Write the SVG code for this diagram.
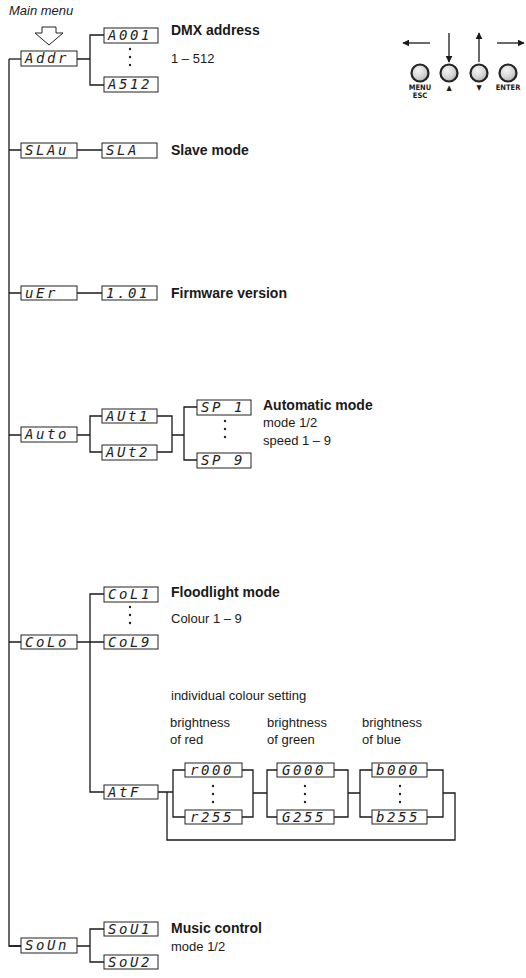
<svg xmlns="http://www.w3.org/2000/svg" width="526" height="978" viewBox="0 0 526 978">
<style>
.bx{fill:#fff;stroke:#222;stroke-width:1}
.seg{font-family:"DejaVu Sans Mono",monospace;font-style:oblique;font-size:14px;letter-spacing:2.6px;fill:#222}
.ln{fill:none;stroke:#1a1a1a;stroke-width:1.3}
.b{font-family:"Liberation Sans",Arial,sans-serif;font-weight:bold;font-size:14px;fill:#1a1a1a}
.t{font-family:"Liberation Sans",Arial,sans-serif;font-size:13px;fill:#1a1a1a}
.k{font-family:"DejaVu Sans Condensed","DejaVu Sans",sans-serif;font-weight:bold;font-size:7.5px;fill:#1a1a1a;text-anchor:middle}
.dot{fill:#222}
</style>
<defs>
<radialGradient id="btn" cx="0.4" cy="0.35" r="0.7">
<stop offset="0" stop-color="#f4f4f4"/>
<stop offset="0.6" stop-color="#d4d4d4"/>
<stop offset="1" stop-color="#a8a8a8"/>
</radialGradient>
<marker id="ah" viewBox="0 0 10 10" refX="9" refY="5" markerWidth="7" markerHeight="7" markerUnits="userSpaceOnUse" orient="auto">
<path d="M0,0 L10,5 L0,10 z" fill="#1a1a1a"/>
</marker>
<symbol id="dots" overflow="visible">
<circle cx="0" cy="0" r="1.2" class="dot"/>
<circle cx="0" cy="8" r="1.2" class="dot"/>
<circle cx="0" cy="16" r="1.2" class="dot"/>
</symbol>
</defs>

<text x="9" y="15" class="t" font-style="italic">Main menu</text>
<path d="M42,27 H56 V33 H63 L49,45 L35,33 H42 Z" fill="#fff" stroke="#222" stroke-width="1"/>

<g id="keys">
<line x1="430" y1="43" x2="403" y2="43" class="ln" marker-end="url(#ah)"/>
<line x1="449" y1="33" x2="449" y2="62" class="ln" marker-end="url(#ah)"/>
<line x1="479" y1="62" x2="479" y2="33" class="ln" marker-end="url(#ah)"/>
<line x1="497" y1="43" x2="524" y2="43" class="ln" marker-end="url(#ah)"/>
<circle cx="420" cy="73" r="8.5" fill="url(#btn)" stroke="#222" stroke-width="2.2"/>
<circle cx="449" cy="73" r="8.5" fill="url(#btn)" stroke="#222" stroke-width="2.2"/>
<circle cx="479" cy="73" r="8.5" fill="url(#btn)" stroke="#222" stroke-width="2.2"/>
<circle cx="508" cy="73" r="8.5" fill="url(#btn)" stroke="#222" stroke-width="2.2"/>
<text x="420" y="90" class="k">MENU</text>
<text x="420" y="98" class="k">ESC</text>
<text x="449" y="90" class="k">▲</text>
<text x="479" y="90" class="k">▼</text>
<text x="508" y="90" class="k">ENTER</text>
</g>

<g id="connectors">
<path class="ln" d="M9,59 V946 H21"/>
<path class="ln" d="M9,59 H21"/>
<path class="ln" d="M77,59 H90 M104,35 H90 V85 H104"/>
<path class="ln" d="M9,150 H21 M77,150 H102"/>
<path class="ln" d="M9,293 H21 M77,293 H102"/>
<path class="ln" d="M9,435 H21 M77,435 H90 M102,416 H90 V452 H102 M157,416 H172 V452 H157 M172,435 H184 M197,407 H184 V460 H197"/>
<path class="ln" d="M9,642 H21 M77,642 H104 M104,594 H90 V792 H104"/>
<path class="ln" d="M158,792 H173 M185,770 H173 V817 H185 M242,770 H253 V817 H242 M253,793 H267 M277,770 H267 V817 H277 M334,770 H348 V817 H334 M348,793 H360 M372,770 H360 V817 H372 M427,770 H443 V817 H427 M443,793 H455 V840 H167 V792"/>
<path class="ln" d="M9,946 H21 M77,946 H90 M104,929 H90 V962 H104"/>
</g>

<g id="Addr"><rect class="bx" x="21" y="51" width="56" height="15"/><text class="seg" x="25" y="63">Addr</text></g>
<g id="A001"><rect class="bx" x="104" y="28" width="54" height="15"/><text class="seg" x="108" y="40">A001</text></g>
<use href="#dots" x="130" y="49"/>
<g id="A512"><rect class="bx" x="104" y="77" width="54" height="15"/><text class="seg" x="108" y="89">A512</text></g>
<text class="b" x="171" y="35">DMX address</text>
<text class="t" x="171" y="63">1 – 512</text>

<g id="SLAu"><rect class="bx" x="21" y="143" width="56" height="15"/><text class="seg" x="25" y="155">SLAu</text></g>
<g id="SLA"><rect class="bx" x="102" y="143" width="55" height="15"/><text class="seg" x="106" y="155">SLA</text></g>
<text class="b" x="171" y="155">Slave mode</text>

<g id="uEr"><rect class="bx" x="21" y="286" width="56" height="14"/><text class="seg" x="25" y="298">uEr</text></g>
<g id="v101"><rect class="bx" x="102" y="286" width="55" height="14"/><text class="seg" x="106" y="298">1.01</text></g>
<text class="b" x="171" y="298">Firmware version</text>

<g id="Auto"><rect class="bx" x="21" y="427" width="56" height="15"/><text class="seg" x="25" y="439">Auto</text></g>
<g id="AUt1"><rect class="bx" x="102" y="409" width="55" height="14"/><text class="seg" x="106" y="421">AUt1</text></g>
<g id="AUt2"><rect class="bx" x="102" y="445" width="55" height="15"/><text class="seg" x="106" y="457">AUt2</text></g>
<g id="SP1"><rect class="bx" x="197" y="400" width="54" height="15"/><text class="seg" x="201" y="412">SP 1</text></g>
<use href="#dots" x="225" y="421"/>
<g id="SP9"><rect class="bx" x="197" y="453" width="54" height="15"/><text class="seg" x="201" y="465">SP 9</text></g>
<text class="b" x="263" y="410">Automatic mode</text>
<text class="t" x="263" y="427">mode 1/2</text>
<text class="t" x="263" y="445">speed 1 – 9</text>

<g id="CoLo"><rect class="bx" x="21" y="635" width="56" height="14"/><text class="seg" x="25" y="647">CoLo</text></g>
<g id="CoL1"><rect class="bx" x="104" y="587" width="54" height="15"/><text class="seg" x="108" y="599">CoL1</text></g>
<use href="#dots" x="130" y="607"/>
<g id="CoL9"><rect class="bx" x="104" y="635" width="54" height="14"/><text class="seg" x="108" y="647">CoL9</text></g>
<text class="b" x="171" y="597">Floodlight mode</text>
<text class="t" x="171" y="623">Colour 1 – 9</text>

<text class="t" x="171" y="700">individual colour setting</text>
<text class="t" x="170" y="727">brightness</text>
<text class="t" x="170" y="744">of red</text>
<text class="t" x="267" y="727">brightness</text>
<text class="t" x="267" y="744">of green</text>
<text class="t" x="362" y="727">brightness</text>
<text class="t" x="362" y="744">of blue</text>

<g id="AtF"><rect class="bx" x="104" y="785" width="54" height="14"/><text class="seg" x="108" y="797">AtF</text></g>
<g id="r000"><rect class="bx" x="185" y="763" width="57" height="14"/><text class="seg" x="190" y="775">r000</text></g>
<use href="#dots" x="213" y="786"/>
<g id="r255"><rect class="bx" x="185" y="810" width="57" height="14"/><text class="seg" x="190" y="822">r255</text></g>
<g id="G000"><rect class="bx" x="277" y="763" width="57" height="14"/><text class="seg" x="282" y="775">G000</text></g>
<use href="#dots" x="305" y="786"/>
<g id="G255"><rect class="bx" x="277" y="810" width="57" height="14"/><text class="seg" x="282" y="822">G255</text></g>
<g id="b000"><rect class="bx" x="372" y="763" width="55" height="14"/><text class="seg" x="376" y="775">b000</text></g>
<use href="#dots" x="400" y="786"/>
<g id="b255"><rect class="bx" x="372" y="810" width="55" height="14"/><text class="seg" x="376" y="822">b255</text></g>

<g id="SoUn"><rect class="bx" x="21" y="938" width="56" height="15"/><text class="seg" x="25" y="950">SoUn</text></g>
<g id="SoU1"><rect class="bx" x="104" y="922" width="54" height="14"/><text class="seg" x="108" y="934">SoU1</text></g>
<g id="SoU2"><rect class="bx" x="104" y="955" width="54" height="14"/><text class="seg" x="108" y="967">SoU2</text></g>
<text class="b" x="171" y="933">Music control</text>
<text class="t" x="171" y="951">mode 1/2</text>
</svg>
